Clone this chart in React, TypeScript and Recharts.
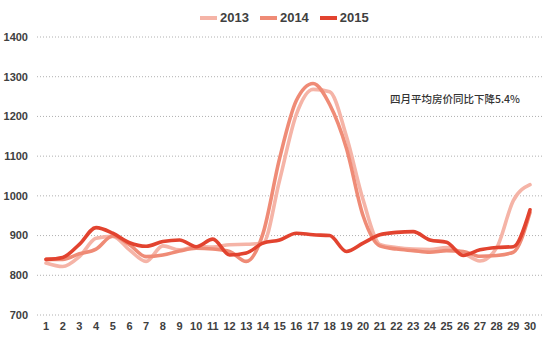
import React from 'react';
import { LineChart, Line, XAxis, YAxis, CartesianGrid } from 'recharts';

const days = ['1','2','3','4','5','6','7','8','9','10','11','12','13','14','15','16','17','18','19','20','21','22','23','24','25','26','27','28','29','30'];
const y2013 = [831, 822, 847, 893, 898, 864, 835, 874, 864, 872, 871, 877, 878, 881, 1040, 1205, 1268, 1262, 1150, 990, 878, 870, 866, 865, 870, 856, 836, 869, 988, 1028];
const y2014 = [840, 840, 854, 866, 899, 877, 847, 851, 861, 868, 866, 860, 835, 905, 1095, 1240, 1283, 1230, 1120, 950, 874, 866, 862, 858, 862, 860, 848, 850, 858, 958];
const y2015 = [840, 845, 878, 920, 906, 882, 873, 885, 889, 872, 891, 851, 856, 881, 889, 906, 902, 900, 860, 881, 902, 908, 910, 889, 883, 850, 864, 870, 872, 965];
const yTicks = [700, 800, 900, 1000, 1100, 1200, 1300, 1400];
const seriesNames = ['2013', '2014', '2015'];
const seriesColors = ['#F5B4A7', '#EF8B76', '#E2432F'];
const annotation = '四月平均房价同比下降5.4%';

const data = days.map((d, i) => ({ day: d, s2013: y2013[i], s2014: y2014[i], s2015: y2015[i] }));
const keys = ['s2013', 's2014', 's2015'];

const tickStyle = { fontFamily: 'Liberation Sans, Arial, sans-serif', fontSize: 11, fontWeight: 700, fill: '#404040' };

export default function App() {
  return (
    <div style={{ position: 'absolute', left: 0, top: 0, width: 550, height: 360, background: '#fff' }}>
      <LineChart width={550} height={360} data={data} margin={{ top: 37, right: 8, bottom: 15, left: 0 }}>
        <CartesianGrid vertical={false} stroke="#b0b0b0" strokeDasharray="1 2" />
        <XAxis
          dataKey="day"
          interval={0}
          axisLine={false}
          tickLine={false}
          tickSize={0}
          tickMargin={7}
          padding={{ left: 9, right: 12 }}
          tick={tickStyle}
        />
        <YAxis
          domain={[700, 1400]}
          ticks={yTicks}
          width={37}
          axisLine={false}
          tickLine={false}
          tickSize={0}
          tickMargin={9}
          tick={tickStyle}
        />
        {keys.map((k, i) => (
          <Line
            key={k}
            type="monotone"
            dataKey={k}
            name={seriesNames[i]}
            stroke={seriesColors[i]}
            strokeWidth={3.6}
            dot={false}
            isAnimationActive={false}
            strokeLinejoin="round"
            strokeLinecap="round"
          />
        ))}
      </LineChart>
      <div style={{ position: 'absolute', left: 200, top: 10, display: 'flex', alignItems: 'center', fontFamily: 'Liberation Sans, Arial, sans-serif', fontSize: 13, fontWeight: 700, color: '#404040' }}>
        {seriesNames.map((n, i) => (
          <div key={n} style={{ display: 'flex', alignItems: 'center', marginRight: 11 }}>
            <div style={{ width: 17, height: 4, background: seriesColors[i], marginRight: 3 }} />
            <span>{n}</span>
          </div>
        ))}
      </div>
      <div style={{ position: 'absolute', left: 390, top: 91, fontFamily: '"Noto Sans CJK SC", sans-serif', fontSize: 10.5, fontWeight: 500, color: '#333', whiteSpace: 'nowrap' }}>
        {annotation}
      </div>
    </div>
  );
}
